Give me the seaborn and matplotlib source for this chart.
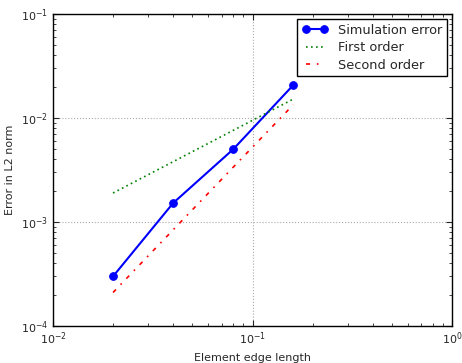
import pandas as pd
import matplotlib
matplotlib.use('Agg')
import matplotlib.pyplot as plt
import seaborn as sns

h = [0.02, 0.04, 0.08, 0.16]
sim_error = [3.0e-4, 1.52e-3, 5.0e-3, 2.07e-2]
first_order = [1.9e-3, 3.8e-3, 7.6e-3, 1.52e-2]
second_order = [2.1e-4, 8.4e-4, 3.36e-3, 1.34e-2]

sns.set_style('ticks')
plt.rcParams['font.family'] = ['DejaVu Sans']
plt.rcParams['xtick.direction'] = 'in'
plt.rcParams['ytick.direction'] = 'in'

df = pd.DataFrame({'h': h, 'sim': sim_error, 'first': first_order, 'second': second_order})

fig = plt.figure(figsize=(4.62, 3.63), dpi=100)
ax = fig.add_axes([53 / 462, 37 / 363, 399 / 462, 312 / 363])

sns.lineplot(data=df, x='h', y='sim', ax=ax, color='blue', marker='o', markersize=5.5,
             markeredgecolor='blue', lw=1.5, label='Simulation error')
sns.lineplot(data=df, x='h', y='first', ax=ax, color='green', lw=1.2, label='First order')
ax.lines[-1].set_dashes([1, 2])
sns.lineplot(data=df, x='h', y='second', ax=ax, color='red', lw=1.2, label='Second order')
ax.lines[-1].set_dashes([2.5, 4, 1, 4])

ax.set_xscale('log')
ax.set_yscale('log')
ax.set_xlim(1e-2, 1)
ax.set_ylim(1e-4, 1e-1)
ax.grid(True, which='major', ls=':', color='#aaaaaa', lw=0.8)
ax.tick_params(which='both', top=True, right=True, labelsize=8)
ax.tick_params(which='major', length=4)
ax.tick_params(which='minor', length=2)
for s in ax.spines.values():
    s.set_linewidth(1)
    s.set_color('black')

ax.set_xlabel('Element edge length', fontsize=8)
ax.set_ylabel('Error in L2 norm', fontsize=8)
leg = ax.legend(loc='upper right', fontsize=9.3, fancybox=False, framealpha=1,
                edgecolor='black', handlelength=2.0, borderaxespad=0.4, numpoints=2,
                labelspacing=0.35, borderpad=0.35)
leg.get_frame().set_linewidth(1)

fig.savefig('out.png', dpi=100)
